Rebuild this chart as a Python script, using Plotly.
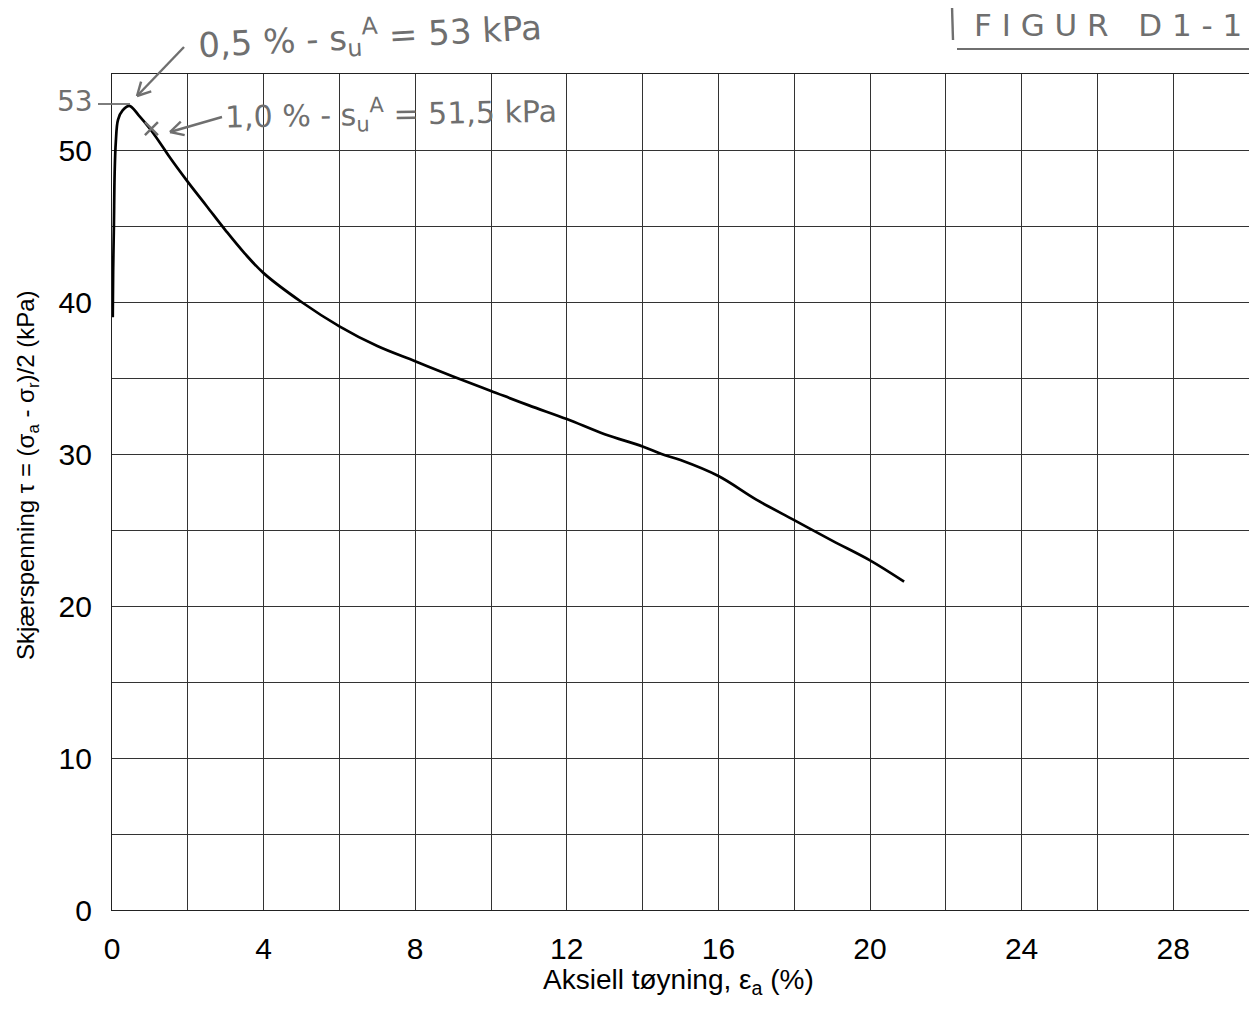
import math
import plotly.graph_objects as go

# Curve data
strain = [0.02, 0.03, 0.05, 0.07, 0.10, 0.16, 0.28, 0.46, 0.70, 1.00, 1.26, 1.50,
          2.0, 2.5, 3.0, 3.5, 4.0, 5.0, 6.0, 7.0, 8.0, 9.0, 10.0, 11.0, 12.0,
          13.0, 14.0, 14.5, 15.0, 16.0, 17.0, 18.0, 19.0, 20.0, 20.9]
shear = [39.0, 42.0, 45.0, 48.5, 50.5, 52.0, 52.6, 52.9, 52.3, 51.4, 50.5, 49.6,
         47.9, 46.3, 44.7, 43.2, 41.9, 40.0, 38.4, 37.1, 36.1, 35.1, 34.15, 33.2, 32.3,
         31.3, 30.5, 30.0, 29.6, 28.55, 27.0, 25.65, 24.3, 23.0, 21.6]

mark_x = [1.04]
mark_y = [51.4]

x_ticks = [0, 4, 8, 12, 16, 20, 24, 28]
y_ticks = [0, 10, 20, 30, 40, 50]

GRAY = "#6f6f6f"
FONT = "Liberation Sans, Arial, sans-serif"
NARROW = "Liberation Sans Narrow, Liberation Sans, Arial, sans-serif"
HAND = "DejaVu Sans, sans-serif"

# page geometry (page has 8px body margin)
OFF = 8
W0, W1 = 112, 1249
H0, H1 = 74, 910
FIG_W, FIG_H = 1249, 995


def px(xp):
    return (xp - W0) / (W1 - W0)


def py(yp):
    return (H1 - yp) / (H1 - H0)


fig = go.Figure()
fig.add_trace(go.Scatter(x=strain, y=shear, mode="lines",
                         line=dict(color="black", width=2.7), showlegend=False,
                         line_shape="spline"))
fig.add_trace(go.Scatter(x=mark_x, y=mark_y, mode="markers",
                         marker=dict(symbol="x-thin", size=13,
                                     line=dict(color=GRAY, width=2.5)),
                         showlegend=False))

axis_common = dict(showline=True, mirror=True, linecolor="#222", linewidth=1.2,
                   showgrid=True, gridcolor="#333", gridwidth=1, zeroline=False,
                   ticks="", tickfont=dict(family=FONT, size=30, color="black"))

fig.update_xaxes(range=[0, 30], tickvals=x_ticks, ticktext=[str(v) for v in x_ticks],
                 minor=dict(dtick=2, tick0=0, showgrid=True, gridcolor="#333", gridwidth=1),
                 ticklabelstandoff=12, **axis_common)
fig.update_yaxes(range=[0, 55], tickvals=y_ticks, ticktext=[str(v) for v in y_ticks],
                 minor=dict(dtick=5, tick0=0, showgrid=True, gridcolor="#333", gridwidth=1),
                 ticklabelstandoff=13, **axis_common)

# axis titles as annotations for exact placement
fig.add_annotation(text="Aksiell tøyning, ε<sub>a</sub> (%)", x=px(678), y=py(981),
                   xref="paper", yref="paper", showarrow=False,
                   font=dict(family=FONT, size=28, color="black"),
                   xanchor="center", yanchor="middle")
fig.add_annotation(text="Skjærspenning τ = (σ<sub>a</sub> - σ<sub>r</sub>)/2 (kPa)",
                   x=px(27), y=py(475), xref="paper", yref="paper", showarrow=False,
                   textangle=-90, font=dict(family=NARROW, size=24, color="black"),
                   xanchor="center", yanchor="middle")

annots = [
    dict(text="0,5 % - s<sub>u</sub><sup>A</sup> = 53 kPa", x=px(370), y=py(36),
         size=34, angle=-3),
    dict(text="1,0 % - s<sub>u</sub><sup>A</sup> = 51,5 kPa", x=px(391), y=py(114),
         size=30, angle=-1),
    dict(text="53", x=px(75), y=py(102), size=28, angle=0),
    dict(text="F I G U R   D 1 - 1", x=px(1108), y=py(25), size=31, angle=0),
]
for a in annots:
    fig.add_annotation(text=a["text"], x=a["x"], y=a["y"], xref="paper", yref="paper",
                       showarrow=False, textangle=a["angle"],
                       font=dict(family=HAND, size=a["size"], color=GRAY),
                       xanchor="center", yanchor="middle")


def arrow(tail, tip, head=15, spread=28):
    (x0, y0), (x1, y1) = tail, tip
    fig.add_shape(type="line", xref="paper", yref="paper",
                  x0=px(x0), y0=py(y0), x1=px(x1), y1=py(y1),
                  line=dict(color=GRAY, width=2.4))
    ang = math.atan2(y0 - y1, x0 - x1)
    for s in (-1, 1):
        a = ang + s * math.radians(spread)
        hx, hy = x1 + head * math.cos(a), y1 + head * math.sin(a)
        fig.add_shape(type="line", xref="paper", yref="paper",
                      x0=px(x1), y0=py(y1), x1=px(hx), y1=py(hy),
                      line=dict(color=GRAY, width=2.4))


arrow((184, 47), (137, 96))
arrow((222, 117), (170, 132))

# "53" leader line, hand-drawn bar and underline of the figure label
fig.add_shape(type="line", xref="paper", yref="paper", x0=px(98), x1=px(130),
              y0=py(104), y1=py(104), line=dict(color=GRAY, width=1.8))
fig.add_shape(type="line", xref="paper", yref="paper", x0=px(952), x1=px(953),
              y0=py(6), y1=py(40), line=dict(color=GRAY, width=2.4))
fig.add_shape(type="line", xref="paper", yref="paper", x0=px(957), x1=px(1256),
              y0=py(49), y1=py(49), line=dict(color=GRAY, width=2))

fig.update_layout(width=FIG_W, height=FIG_H,
                  margin=dict(l=W0 - OFF, r=FIG_W - (W1 - OFF), t=H0 - OFF,
                              b=FIG_H - (H1 - OFF), autoexpand=False),
                  paper_bgcolor="white", plot_bgcolor="white",
                  font=dict(family=FONT, color="black"))

fig.write_html("out.html")
